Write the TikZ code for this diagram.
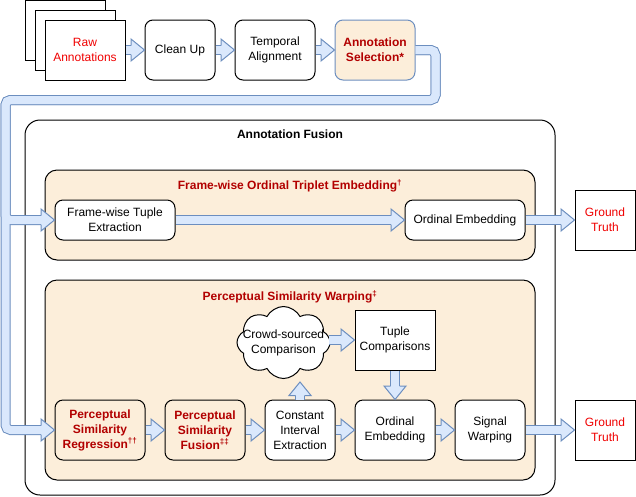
\documentclass[tikz,border=0pt]{standalone}
\usepackage{fontspec}
\setmainfont{Liberation Sans}
\usetikzlibrary{calc,shapes.symbols}
\definecolor{flexfill}{HTML}{DAE8FC}
\definecolor{flexstroke}{HTML}{6C8EBF}
\definecolor{peach}{HTML}{FCEEDA}
\definecolor{darkred}{HTML}{B20000}
\definecolor{brightred}{HTML}{F00000}
\tikzset{
  txt/.style={inner sep=0pt, align=center, font=\fontsize{12}{15}\selectfont},
  boldtxt/.style={txt, font=\fontsize{12}{15}\selectfont\bfseries},
  sqbox/.style={txt, draw=black, line width=1pt, fill=white, rectangle},
  rbox/.style={sqbox, rounded corners=8pt},
  redbox/.style={rbox, fill=peach, text=darkred, font=\fontsize{12}{15}\selectfont\bfseries},
  group/.style={draw=black, line width=1pt, fill=peach, rounded corners=12pt, rectangle, inner sep=0pt},
  outer/.style={draw=black, line width=1pt, fill=white, rounded corners=15pt, rectangle, inner sep=0pt},
  flexout/.style={draw=flexstroke, line width=10pt, line cap=butt, line join=miter},
  flexin/.style={draw=flexfill, line width=8pt, line cap=butt, line join=miter},
  flexhead/.style={draw=flexstroke, fill=flexfill, line width=1pt, line join=miter},
}
% heads: tip at #1
\newcommand\rhead[1]{\path[flexhead] ($(#1)+(-13.5,-4.5)$) -- ++(0,-6.5) -- (#1) -- ($(#1)+(-13.5,11)$) -- ++(0,-6.5);}
\newcommand\dhead[1]{\path[flexhead] ($(#1)+(-4.5,-13.5)$) -- ++(-6.5,0) -- (#1) -- ($(#1)+(11,-13.5)$) -- ++(-6.5,0);}
\newcommand\uhead[1]{\path[flexhead] ($(#1)+(-4.5,13.5)$) -- ++(-6.5,0) -- (#1) -- ($(#1)+(11,13.5)$) -- ++(-6.5,0);}
\newcommand\rarr[2]{\path[flexout] (#1) -- ($(#2)+(-13,0)$); \path[flexin] (#1) -- ($(#2)+(-13,0)$); \rhead{#2}}
\newcommand\darr[2]{\path[flexout] (#1) -- ($(#2)+(0,-13)$); \path[flexin] (#1) -- ($(#2)+(0,-13)$); \dhead{#2}}
\newcommand\uarr[2]{\path[flexout] (#1) -- ($(#2)+(0,13)$); \path[flexin] (#1) -- ($(#2)+(0,13)$); \uhead{#2}}
\begin{document}
\begin{tikzpicture}[x=1pt,y=-1pt]
\useasboundingbox (0,0) rectangle (636,496);
% top row
\node[sqbox, minimum width=80pt, minimum height=60pt] (doc3) at (65,30.5) {};
\node[sqbox, minimum width=80pt, minimum height=60pt] (doc2) at (75,40) {};
\node[sqbox, minimum width=80pt, minimum height=60pt, text=brightred] (raw) at (85,50) {Raw\\Annotations};
\node[rbox, minimum width=70pt, minimum height=60pt] (clean) at (180,50) {Clean Up};
\node[rbox, minimum width=80pt, minimum height=60pt] (temporal) at (275,50) {Temporal\\Alignment};
\node[redbox, draw=flexstroke, minimum width=80pt, minimum height=60pt] (sel) at (375,50) {Annotation\\Selection*};
% fusion container
\node[outer, minimum width=530pt, minimum height=375pt] (fusion) at (290,307.5) {};
\node[boldtxt] (fusiontitle) at (290,134) {Annotation Fusion};
% frame-wise group
\node[group, minimum width=490pt, minimum height=90pt] (fote) at (290,215) {};
\node[boldtxt, text=darkred] (fotetitle) at (290,186) {Frame-wise Ordinal Triplet Embedding\textsuperscript{†}};
\node[rbox, minimum width=120pt, minimum height=40pt] (fte) at (115,220) {Frame-wise Tuple\\Extraction};
\node[rbox, minimum width=120pt, minimum height=40pt] (oe1) at (465,220) {Ordinal Embedding};
\node[sqbox, minimum width=60pt, minimum height=60pt, text=brightred] (gt1) at (605,220) {Ground\\Truth};
% perceptual group
\node[group, minimum width=490pt, minimum height=200pt] (psw) at (290,380) {};
\node[boldtxt, text=darkred] (pswtitle) at (290,297) {Perceptual Similarity Warping\textsuperscript{‡}};
\node[cloud, cloud puffs=8, cloud puff arc=125, aspect=1.35, draw=black, fill=white, line width=1pt, minimum width=93pt, minimum height=72pt, inner sep=0pt] (cloud) at (283.5,342.5) {};
\node[txt] (cloudtext) at (cloud.center) {Crowd-sourced\\Comparison};
\node[sqbox, minimum width=80pt, minimum height=60pt] (tuple) at (395,340) {Tuple\\Comparisons};
\node[redbox, minimum width=90pt, minimum height=60pt] (psr) at (100,430) {Perceptual\\Similarity\\Regression\textsuperscript{††}};
\node[redbox, minimum width=80pt, minimum height=60pt] (psf) at (205,430) {Perceptual\\Similarity\\Fusion\textsuperscript{‡‡}};
\node[rbox, minimum width=70pt, minimum height=60pt] (cie) at (300,430) {Constant\\Interval\\Extraction};
\node[rbox, minimum width=80pt, minimum height=60pt] (oe2) at (395,430) {Ordinal\\Embedding};
\node[rbox, minimum width=70pt, minimum height=60pt] (sw) at (490,430) {Signal\\Warping};
\node[sqbox, minimum width=60pt, minimum height=60pt, text=brightred] (gt2) at (605,430) {Ground\\Truth};
% route from selection
\coordinate (ra) at (435.5,100);
\coordinate (rb) at (5.5,100);
\foreach \st in {flexout,flexin}{
  \path[\st, rounded corners=5pt] (sel.east) -- (sel.east -| ra) -- (ra) -- (rb) -- (rb |- fte.west) -- ($(fte.west)+(-13,0)$);
  \path[\st, rounded corners=5pt] (sel.east) -- (sel.east -| ra) -- (ra) -- (rb) -- (rb |- psr.west) -- ($(psr.west)+(-13,0)$);
}
\rhead{fte.west}
\rhead{psr.west}
% straight arrows
\rarr{raw.east}{clean.west}
\rarr{clean.east}{temporal.west}
\rarr{temporal.east}{sel.west}
\rarr{fte.east}{oe1.west}
\rarr{oe1.east}{gt1.west}
\rarr{psr.east}{psf.west}
\rarr{psf.east}{cie.west}
\rarr{cie.east}{oe2.west}
\rarr{oe2.east}{sw.west}
\rarr{sw.east}{gt2.west}
\rarr{$(cloud.east |- tuple.west)+(-2,0)$}{tuple.west}
\uarr{cie.north}{$(cie.north |- cloud.south)+(0,3)$}
\darr{tuple.south}{oe2.north}
\end{tikzpicture}
\end{document}
